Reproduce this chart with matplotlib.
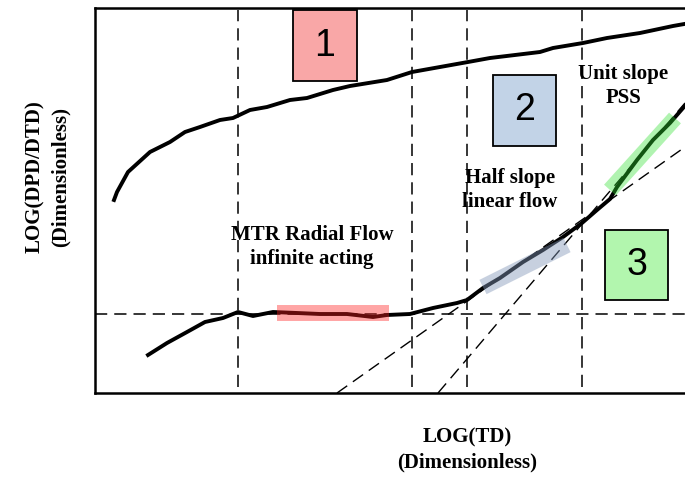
import matplotlib
matplotlib.use("Agg")
import matplotlib.pyplot as plt
from matplotlib.patches import Rectangle

# log-log diagnostic sketch, dimensionless plot units
upper_x = [19, 22, 33, 55, 75, 90, 105, 125, 138, 155, 172, 195, 212, 238, 255,
           292, 317, 345, 373, 395, 445, 458, 488, 512, 545, 578, 595]
upper_y = [193, 201, 221, 241, 251, 261, 266, 273, 275, 283, 286, 293, 295, 303, 307,
           313, 321, 326, 331, 335, 341, 345, 350, 355, 360, 367, 370]

lower_x = [53, 72, 92, 110, 128, 143, 158, 178, 202, 225, 252, 278, 292, 315, 338,
           362, 372, 388, 405, 428, 448, 468, 487, 502, 515, 522, 542, 558, 575, 595]
lower_y = [38, 50, 61, 71, 75, 81, 77, 81, 80, 79, 79, 76, 78, 79, 85,
           90, 93, 105, 115, 131, 143, 156, 170, 183, 194, 206, 233, 253, 270, 293]

radial_level = 79
regime_bounds = [143, 317, 372, 487]
half_slope_line = ([242, 590], [0, 246])
unit_slope_line = ([343, 590], [0, 290])

highlights = [
    ([182, 294], [80, 80], "#ff2020", 0.4),
    ([388, 472], [106, 148], "#8397b8", 0.45),
    ([515, 580], [203, 275], "#30e030", 0.38),
]

boxes = [("1", 198, 312, 64, 71, "#f9a7a7"),
         ("2", 398, 247, 63, 71, "#c2d3e7"),
         ("3", 510, 93, 63, 70, "#b2f6ae")]

labels = [("MTR Radial Flow\ninfinite acting", 217, 146),
          ("Half slope\nlinear flow", 415, 203),
          ("Unit slope\nPSS", 528, 307)]

serif = ["Liberation Serif", "DejaVu Serif"]

fig = plt.figure(figsize=(6.85, 4.78), dpi=100)
ax = fig.add_axes([95 / 685, 85 / 478, 590 / 685, 385 / 478])
ax.set_xlim(0, 590)
ax.set_ylim(0, 385)
ax.set_xticks([])
ax.set_yticks([])
ax.spines["right"].set_visible(False)
for s in ["left", "top", "bottom"]:
    ax.spines[s].set_linewidth(1.8)

dash = (0, (8, 4.6))
ax.axhline(radial_level, color="black", lw=1.1, linestyle=dash, zorder=1)
for xb in regime_bounds:
    ax.plot([xb, xb], [6, 383], color="black", lw=1.1, linestyle=dash, zorder=1)
ax.plot(*half_slope_line, color="black", lw=1.0, linestyle=(0, (9, 5)), zorder=1)
ax.plot(*unit_slope_line, color="black", lw=1.0, linestyle=(0, (9, 5)), zorder=1)

ax.plot(upper_x, upper_y, color="black", lw=2.8, zorder=3)
ax.plot(lower_x, lower_y, color="black", lw=2.8, zorder=3)

for hx, hy, c, a in highlights:
    ax.plot(hx, hy, color=c, alpha=a, lw=11.5, solid_capstyle="butt", zorder=4)

for num, bx, by, bw, bh, c in boxes:
    ax.add_patch(Rectangle((bx, by), bw, bh, facecolor=c, edgecolor="black",
                           lw=1.3, zorder=5))
    ax.text(bx + bw / 2, by + bh / 2, num, ha="center", va="center", fontsize=27,
            family=["Liberation Sans", "DejaVu Sans"], zorder=6)

for txt, tx, ty in labels:
    ax.text(tx, ty, txt, ha="center", va="center", fontsize=15, fontweight="bold",
            family=serif, linespacing=1.3, zorder=6)

fig.text(467 / 685, 1 - 450 / 478, "LOG(TD)\n(Dimensionless)", ha="center", va="center",
         fontsize=15, fontweight="bold", family=serif, linespacing=1.35)
fig.text(48 / 685, 1 - 177 / 478, "LOG(DPD/DTD)\n(Dimensionless)", ha="center", va="center",
         rotation=90, fontsize=15, fontweight="bold", family=serif, linespacing=1.35)

fig.savefig("out.png", dpi=100)
